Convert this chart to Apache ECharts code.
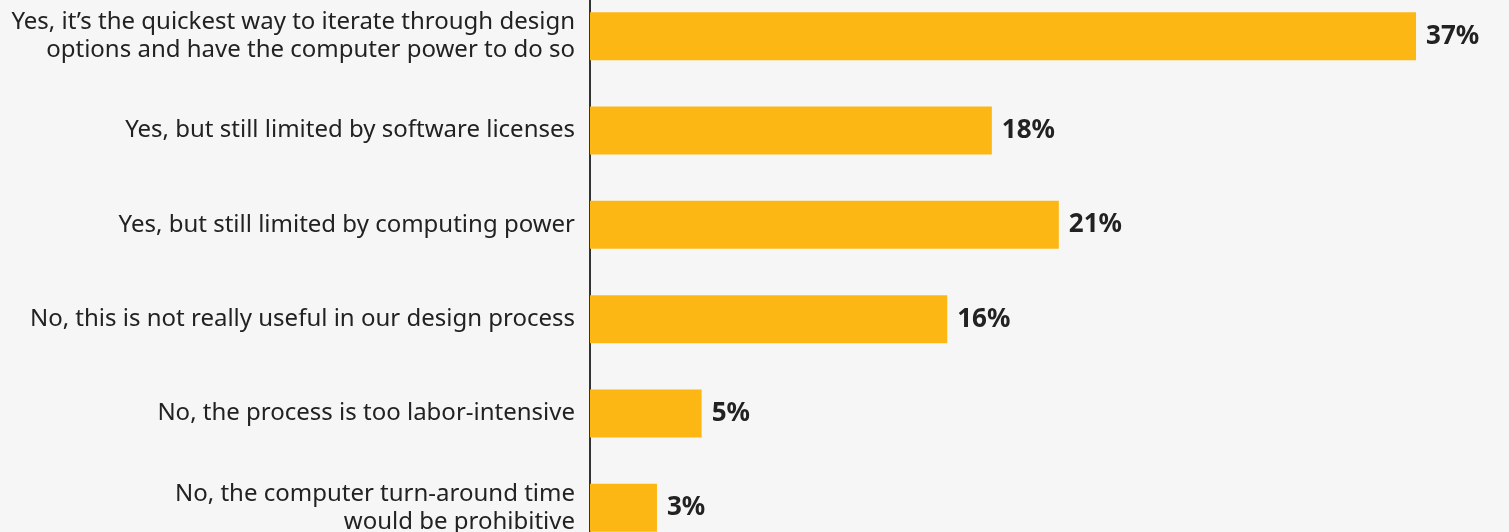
<!DOCTYPE html>
<html>
<head>
<meta charset="utf-8">
<script src="https://cdn.jsdelivr.net/npm/echarts@6/dist/echarts.min.js"></script>
<style>
  html, body { margin: 0; padding: 0; background: #f6f6f6; overflow: hidden; }
  /* chart is a bit taller than the window so the first and last bars sit at the edges */
  #chart { width: 1509px; height: 566px; margin-top: -11px; }
</style>
</head>
<body>
<div id="chart"></div>
<script>
// answers, top to bottom
const categories = [
  'Yes, it\u2019s the quickest way to iterate through design\noptions and have the computer power to do so',
  'Yes, but still limited by software licenses',
  'Yes, but still limited by computing power',
  'No, this is not really useful in our design process',
  'No, the process is too labor-intensive',
  'No, the computer turn-around time\nwould be prohibitive',
];
const values = [37, 18, 21, 16, 5, 3];

const chart = echarts.init(document.getElementById('chart'));

const option = {
  backgroundColor: '#f6f6f6',
  animation: false,
  grid: {
    left: 590,
    right: 26,
    top: 0,
    bottom: 0,
  },
  xAxis: {
    type: 'value',
    min: 0,
    max: 40,
    show: false,
  },
  yAxis: {
    type: 'category',
    inverse: true,
    data: categories,
    axisLine: { show: true, lineStyle: { color: '#333', width: 2 } },
    axisTick: { show: false },
    axisLabel: {
      interval: 0,
      margin: 15,
      align: 'right',
      color: '#222',
      fontFamily: '"Noto Sans", sans-serif',
      fontSize: 24,
      lineHeight: 28,
    },
  },
  series: [
    {
      type: 'bar',
      data: values,
      barWidth: 48,
      itemStyle: { color: '#fdb714' },
      label: {
        show: true,
        position: 'right',
        distance: 10,
        formatter: '{c}%',
        color: '#222',
        fontWeight: 'bold',
        fontFamily: '"Noto Sans", sans-serif',
        fontSize: 26,
      },
    },
  ],
};

chart.setOption(option);
</script>
</body>
</html>
